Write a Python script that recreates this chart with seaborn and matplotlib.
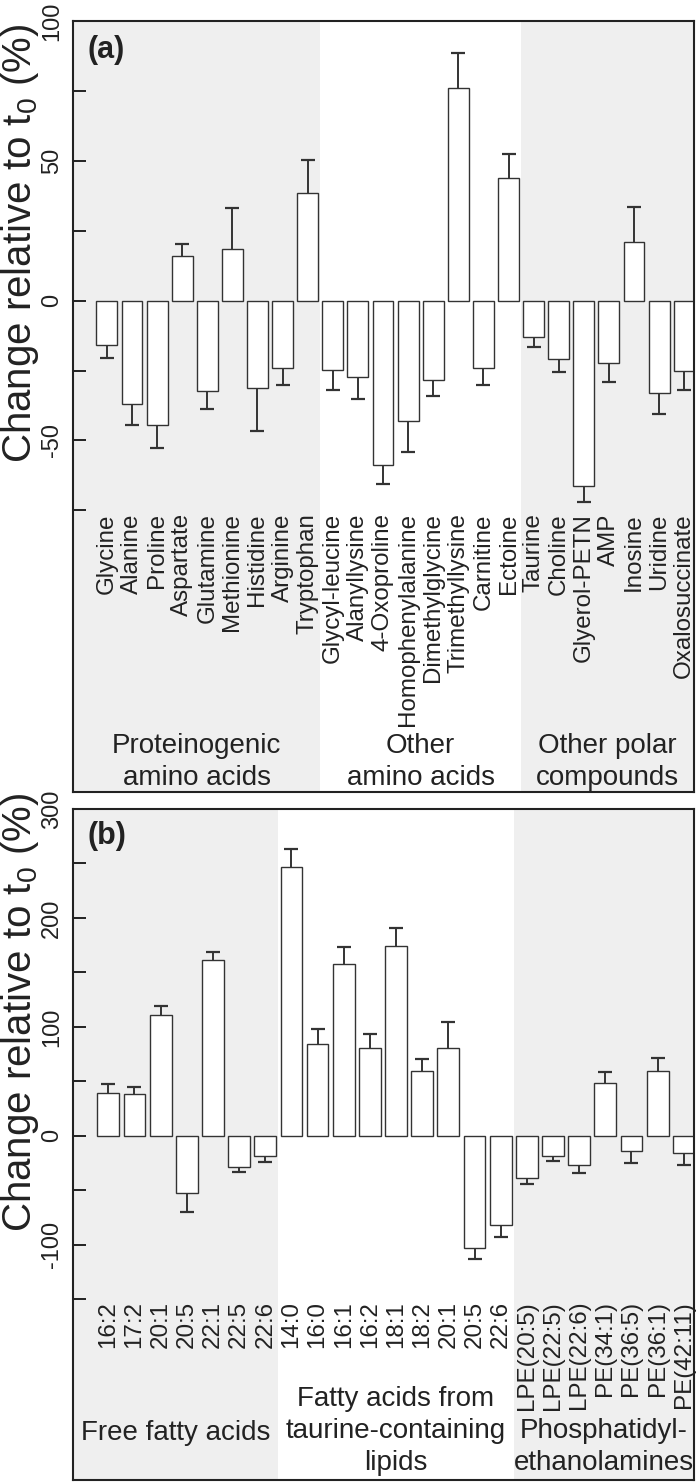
import numpy as np
import pandas as pd
import matplotlib
matplotlib.use('Agg')
import matplotlib.pyplot as plt
import seaborn as sns

# ---- panel (a): polar metabolites ----
groups_a = ['Proteinogenic\namino acids', 'Other\namino acids', 'Other polar\ncompounds']
sizes_a = [9, 8, 7]
names_a = ['Glycine', 'Alanine', 'Proline', 'Aspartate', 'Glutamine', 'Methionine',
           'Histidine', 'Arginine', 'Tryptophan',
           'Glycyl-leucine', 'Alanyllysine', '4-Oxoproline', 'Homophenylalanine',
           'Dimethylglycine', 'Trimethyllysine', 'Carnitine', 'Ectoine',
           'Taurine', 'Choline', 'Glyerol-PETN', 'AMP', 'Inosine', 'Uridine', 'Oxalosuccinate']
change_a = [-15.7, -37.1, -44.4, 15.8, -32.4, 18.5, -31.2, -24.0, 38.5,
            -24.8, -27.4, -58.7, -43.1, -28.2, 76.0, -24.0, 44.0,
            -12.9, -20.8, -66.1, -22.3, 21.0, -33.0, -25.2]
err_a = [4.8, 7.5, 8.2, 4.6, 6.5, 14.7, 15.5, 6.1, 11.9,
         7.1, 7.7, 7.0, 11.1, 6.0, 12.5, 6.1, 8.3,
         3.5, 4.8, 5.9, 6.9, 12.5, 7.7, 6.7]

# ---- panel (b): lipids ----
groups_b = ['Free fatty acids', 'Fatty acids from\ntaurine-containing\nlipids', 'Phosphatidyl-\nethanolamines']
sizes_b = [7, 9, 7]
names_b = ['16:2', '17:2', '20:1', '20:5', '22:1', '22:5', '22:6',
           '14:0', '16:0', '16:1', '16:2', '18:1', '18:2', '20:1', '20:5', '22:6',
           'LPE(20:5)', 'LPE(22:5)', 'LPE(22:6)', 'PE(34:1)', 'PE(36:5)', 'PE(36:1)', 'PE(42:11)']
change_b = [39.7, 38.2, 110.8, -52.8, 161.2, -29.0, -18.9,
            246.6, 84.5, 157.8, 80.3, 174.6, 59.2, 80.9, -102.9, -81.8,
            -38.8, -18.3, -26.9, 48.2, -13.7, 59.2, -15.9]
err_b = [7.6, 6.7, 7.9, 17.1, 7.6, 4.6, 4.9,
         16.5, 13.2, 15.9, 12.8, 16.2, 11.0, 23.5, 10.0, 10.7,
         5.5, 5.2, 7.3, 10.7, 11.6, 12.5, 10.7]

sns.set_style('ticks')
plt.rcParams['font.family'] = ['Liberation Sans', 'DejaVu Sans']
plt.rcParams['axes.unicode_minus'] = False

INK = '#222222'
GREY = '#efefef'


def draw_panel(ax, names, sizes, values, errs, groups, ylim, major, minor,
               name_y, group_y, tag, label_y):
    n = len(names)
    grp = np.repeat(np.arange(len(sizes)), sizes)
    keys = [f'{g}|{i}|{nm}' for i, (g, nm) in enumerate(zip(grp, names))]
    df = pd.DataFrame({'key': keys, 'name': names, 'change': values, 'err': errs})

    sns.barplot(data=df, x='key', y='change', order=keys, color='white',
                saturation=1, width=0.833, edgecolor='#333333', linewidth=1.0,
                errorbar=None, ax=ax, zorder=2)

    x = np.arange(n)
    v = df['change'].to_numpy()
    e = df['err'].to_numpy()
    tips = v + np.sign(v) * e
    ax.vlines(x, v, tips, color='#333333', linewidth=1.4, zorder=3)
    ax.plot(x, tips, ls='none', marker='_', markersize=9.4,
            markeredgewidth=1.6, color='#333333', zorder=3)

    x0, x1 = -1.35, n - 0.61
    ax.set_xlim(x0, x1)
    ax.set_ylim(*ylim)
    bounds = np.cumsum(sizes)[:-1] - 0.5
    edges = [x0] + list(bounds) + [x1]
    ax.axvspan(edges[0], edges[1], color=GREY, zorder=0, lw=0)
    ax.axvspan(edges[2], edges[3], color=GREY, zorder=0, lw=0)

    for i, nm in enumerate(names):
        ax.text(i, name_y, nm, rotation=90, ha='center', va='top',
                fontsize=17.4, color=INK)
    for k, g in enumerate(groups):
        cx = (edges[k] + edges[k + 1]) / 2
        ax.text(cx, group_y[k], g, ha='center', va='baseline', fontsize=20,
                color=INK, linespacing=1.29,
                transform=ax.get_xaxis_transform())

    ax.set_yticks(major)
    ax.set_yticks(minor, minor=True)
    ax.set_yticklabels([str(t) for t in major])
    ax.tick_params(axis='y', which='both', direction='in', length=9.4,
                   width=1.4, color=INK, labelsize=17, labelcolor=INK,
                   pad=7, labelrotation=90)
    for lbl in ax.get_yticklabels():
        lbl.set_va('center')
    ax.tick_params(axis='x', bottom=False, labelbottom=False)
    ax.set_xlabel('')
    ax.set_ylabel('')
    for sp in ax.spines.values():
        sp.set_visible(True)
        sp.set_linewidth(1.5)
        sp.set_color(INK)
    ax.text(0.024, 0.982, tag, transform=ax.transAxes, ha='left', va='top',
            fontsize=22, fontweight='bold', color=INK)
    ax.text(-0.085, label_y, 'Change relative to t$_\\mathregular{0}$ (%)',
            transform=ax.transAxes, rotation=90, ha='center', va='center',
            fontsize=29, color=INK)


fig = plt.figure(figsize=(7.0, 14.82), dpi=100)
ax_a = fig.add_axes([73 / 700, 1 - 792 / 1482, 621 / 700, 771 / 1482])
ax_b = fig.add_axes([73 / 700, 1 - 1480 / 1482, 621 / 700, 671 / 1482])

draw_panel(ax_a, names_a, sizes_a, change_a, err_a, groups_a,
           (-175.7, 100), [-50, 0, 50, 100], [-75, -25, 25, 75],
           -76, [0.009, 0.009, 0.009], '(a)', 0.712)
draw_panel(ax_b, names_b, sizes_b, change_b, err_b, groups_b,
           (-316, 300), [-100, 0, 100, 200, 300], [-150, -50, 50, 150, 250],
           -151.5, [0.0596, 0.0149, 0.0149], '(b)', 0.697)

fig.savefig('out.png', dpi=100)
